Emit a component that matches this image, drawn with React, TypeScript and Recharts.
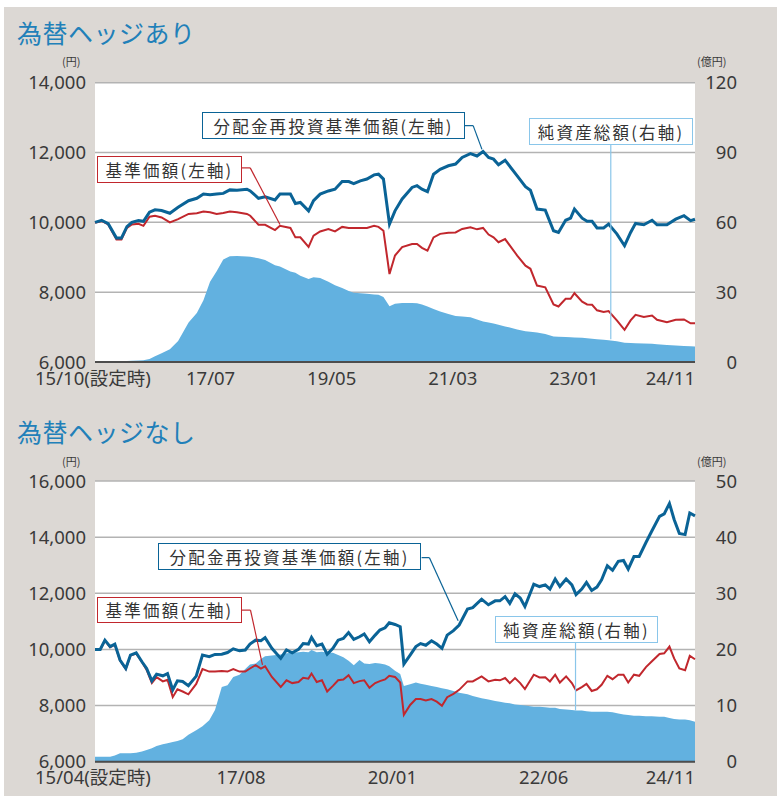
import React from "react";
import { ComposedChart, Line, Area, XAxis, YAxis, CartesianGrid, ReferenceLine } from "recharts";

// 為替ヘッジあり -------------------------------------------------------------
// x = months since 15/10 (inception), left axis = 円, right axis = 億円
const hedgedMonths = [
  0, 1.2, 2.4, 3.9, 4.8, 5.8, 6.7, 7.9, 8.8, 9.9,
  10.9, 12.1, 13.6, 15.1, 17, 18.5, 19.7, 20.9, 22.1, 23.3,
  24.5, 25.8, 27.6, 28.2, 29.7, 30.9, 32.7, 33.6, 35.5, 36.4,
  37.3, 38.8, 39.7, 40.9, 42.4, 43.6, 44.9, 46.1, 47, 48.2,
  49.4, 50.7, 51.5, 52.4, 53.5, 54.5, 55.8, 57.6, 58.5, 59.4,
  60.4, 61.5, 62.7, 64.2, 65.5, 66.7, 68.2, 69.4, 70.5, 71.5,
  72.4, 73.3, 74.5, 76.7, 78.2, 79.1, 80.3, 81.8, 83.3, 84.2,
  85.5, 86.4, 87.1, 88.5, 89.4, 90.3, 91.2, 92.4, 93.3, 94.8,
  96.2, 97.3, 98.2, 99.7, 101.2, 102.1, 103.9, 105.5, 107, 108.2, 109,
];
const hedgedReinvested = [
  10000, 10060, 9960, 9550, 9550, 9875, 10000, 10050, 10030, 10290,
  10360, 10340, 10260, 10430, 10620, 10690, 10810, 10790, 10810, 10830,
  10930, 10920, 10950, 10900, 10690, 10730, 10640, 10810, 10810, 10540,
  10570, 10330, 10620, 10810, 10900, 10950, 11170, 11170, 11110, 11190,
  11240, 11360, 11380, 11240, 9950, 10330, 10670, 11000, 11050, 10950,
  10880, 11380, 11520, 11620, 11670, 11860, 11970, 11900, 12030, 11860,
  11810, 11650, 11780, 11330, 11020, 10920, 10380, 10350, 9760, 9710,
  10060, 10120, 10380, 10120, 10030, 10030, 9840, 9840, 9950, 9670,
  9330, 9710, 9970, 9930, 10060, 9930, 9930, 10090, 10190, 10050, 10090,
];
const hedgedNav = [
  9990, 10040, 9940, 9510, 9510, 9840, 9940, 9960, 9900, 10160,
  10190, 10140, 10000, 10090, 10240, 10260, 10310, 10290, 10240, 10270,
  10310, 10290, 10240, 10190, 9930, 9930, 9780, 9900, 9840, 9570,
  9570, 9300, 9620, 9740, 9810, 9740, 9870, 9840, 9840, 9840,
  9840, 9900, 9870, 9760, 8520, 9050, 9290, 9380, 9380, 9270,
  9190, 9570, 9670, 9700, 9710, 9810, 9860, 9800, 9840, 9650,
  9570, 9430, 9520, 9050, 8760, 8670, 8190, 8140, 7650, 7590,
  7810, 7810, 7970, 7730, 7650, 7640, 7480, 7430, 7460, 7190,
  6920, 7190, 7350, 7290, 7330, 7210, 7140, 7210, 7220, 7110, 7110,
];
const hedgedAssets = [
  0.3, 0.3, 0.3, 0.3, 0.4, 0.4, 0.5, 0.6, 0.8, 1.3,
  2.5, 3.8, 5.5, 9, 17, 21, 26.5, 34.5, 39, 44,
  45.4, 45.5, 45.3, 45.2, 44.6, 43.8, 41.6, 41, 38.9, 38.3,
  37.1, 35.7, 36.4, 36.1, 34.5, 33, 31.8, 30.5, 29.8, 29.5,
  29.3, 29, 28.9, 27.9, 23.9, 25, 25.3, 25.4, 25.2, 24.7,
  23.8, 22.8, 21.7, 20.6, 19.8, 19.5, 19.2, 18.3, 17.4, 17,
  16.5, 16, 15.3, 14, 13.2, 13, 12.7, 12, 11, 10.9,
  10.7, 10.6, 10.5, 10.4, 10.2, 10, 9.8, 9.6, 9.3, 8.9,
  8.3, 8.2, 8.1, 8, 7.8, 7.6, 7.3, 7.1, 6.9, 6.8, 6.7,
];
const hedgedTicks = [0, 21, 43, 65, 87, 109];
const hedgedTickLabels = ["15/10(設定時)", "17/07", "19/05", "21/03", "23/01", "24/11"];

// 為替ヘッジなし -------------------------------------------------------------
// x = months since 15/04 (inception)
const openMonths = [
  0, 1, 1.9, 2.9, 3.8, 4.8, 5.9, 6.8, 7.9, 9,
  9.9, 10.9, 11.8, 13, 13.9, 14.9, 15.8, 16.8, 17.9, 19.4,
  20.6, 21.9, 23, 24.3, 25.4, 26.5, 27.7, 28.8, 29.7, 30.8,
  31.8, 32.6, 33.9, 35.6, 36.7, 37.8, 39, 39.9, 40.9, 41.5,
  42.5, 43.5, 44.5, 45.6, 46.6, 47.6, 48.6, 49.6, 50.7, 51.6,
  52.6, 53.7, 54.6, 55.6, 56.4, 57.5, 58.5, 59.2, 60.4, 61.5,
  62.4, 63.4, 64.5, 65.5, 66.5, 67.5, 68.7, 69.8, 71.4, 72.4,
  74.1, 75.4, 76.7, 77.6, 78.6, 79.5, 80.5, 81.5, 82.4, 84.1,
  85.2, 86.3, 87.2, 88.2, 89.1, 90.3, 91.4, 92.2, 93.3, 94.2,
  95.2, 96.2, 97.1, 98.2, 99.2, 100.3, 101.3, 102.2, 103.3, 104.3,
  105.6, 106.7, 108.2, 109.1, 110.1, 111, 112, 113.1, 114, 115,
];
const openReinvested = [
  10000, 10000, 10330, 10100, 10190, 9620, 9320, 9800, 9880, 9560,
  9320, 8880, 9120, 9060, 9140, 8560, 8880, 8860, 8710, 9050,
  9800, 9740, 9820, 9830, 9890, 10020, 9950, 9980, 10190, 10330,
  10310, 10420, 10040, 9680, 9980, 9880, 10000, 10210, 10190, 10430,
  10130, 10190, 9830, 10040, 10330, 10390, 10600, 10360, 10450, 10550,
  10270, 10510, 10690, 10770, 10950, 10890, 10810, 9480, 9800, 10100,
  10210, 10150, 10310, 10190, 10040, 10510, 10670, 10870, 11440, 11490,
  11790, 11590, 11730, 11730, 11880, 11640, 11980, 11830, 11530, 12320,
  12240, 12300, 12150, 12510, 12240, 12510, 12300, 11950, 12150, 12390,
  12100, 12220, 12480, 12980, 12820, 13140, 13170, 12860, 13310, 13310,
  13810, 14210, 14740, 14830, 15200, 14630, 14130, 14090, 14860, 14760,
];
const openNav = [
  9990, 9990, 10310, 10080, 10170, 9600, 9300, 9780, 9850, 9550,
  9270, 8800, 9010, 8860, 8920, 8300, 8580, 8500, 8400, 8770,
  9300, 9210, 9210, 9230, 9210, 9300, 9210, 9210, 9320, 9440,
  9320, 9400, 9020, 8660, 8900, 8800, 8840, 8990, 8960, 9140,
  8840, 8900, 8500, 8700, 8900, 8930, 9080, 8800, 8870, 8900,
  8630, 8800, 8870, 8930, 9060, 9020, 8820, 7670, 8020, 8230,
  8230, 8180, 8230, 8140, 7990, 8300, 8420, 8560, 8860, 8860,
  9040, 8860, 8920, 8900, 8980, 8800, 8980, 8800, 8590, 9100,
  9000, 9010, 8860, 9100, 8820, 9040, 8800, 8540, 8660, 8770,
  8520, 8580, 8740, 9060, 8940, 9100, 9100, 8820, 9100, 9060,
  9370, 9570, 9840, 9860, 10100, 9680, 9320, 9260, 9770, 9650,
];
const openAssets = [
  0.9, 0.9, 0.9, 0.9, 1.1, 1.5, 1.5, 1.5, 1.6, 1.8,
  2.1, 2.4, 2.8, 3.1, 3.3, 3.5, 3.7, 4, 4.8, 5.6,
  6.3, 7.4, 9.2, 13.3, 13.6, 15.1, 15.5, 16.5, 17.3, 17.5,
  18.3, 18.8, 18.9, 19.1, 19.3, 19.4, 19.5, 19.6, 19.5, 19.9,
  19.5, 19.6, 19.4, 19.4, 19, 18.6, 18, 17.2, 18.1, 17.5,
  17.4, 17.6, 17.5, 17.3, 17, 16.2, 15.6, 13.5, 13.8, 14.1,
  13.9, 13.7, 13.5, 13.3, 13.1, 12.9, 12.6, 12.3, 12, 11.7,
  11.3, 11.1, 10.8, 10.7, 10.5, 10.4, 10.2, 10.1, 10, 9.8,
  9.8, 9.7, 9.6, 9.6, 9.4, 9.3, 9.2, 9.1, 9.1, 9,
  8.9, 8.9, 8.9, 8.9, 8.8, 8.6, 8.4, 8.3, 8.2, 8.2,
  8.1, 8.1, 8, 8, 7.8, 7.6, 7.5, 7.5, 7.4, 7.1,
];
const openTicks = [0, 28, 57, 86, 115];
const openTickLabels = ["15/04(設定時)", "17/08", "20/01", "22/06", "24/11"];

// colors ---------------------------------------------------------------------
const BG = "#dcd8d4";
const TITLE = "#2180b9";
const C_BLUE = "#0a6396";
const C_RED = "#c1272d";
const C_AREA = "#62b1e0";
const C_LEAD = "#8ac6ea";
const GRID = "#b3b3b3";
const TICK = "#3a3a3a";
const NUM_FONT = "'Noto Sans', 'Noto Sans CJK JP', sans-serif";
const JP_FONT = "'Noto Sans CJK JP', 'Noto Sans', sans-serif";

type Pt = { x: number; y: number };
type Leader = { color: string; pts: Pt[]; axis: "left" | "right" };

interface FundChartProps {
  height: number;
  marginTop: number;
  marginBottom: number;
  months: number[];
  reinvested: number[];
  nav: number[];
  assets: number[];
  leftMax: number;
  rightMax: number;
  rightStep: number;
  ticks: number[];
  tickLabels: string[];
  leaders: Leader[];
}

const FundChart: React.FC<FundChartProps> = (p) => {
  const rows = p.months.map((m, i) => ({ m, blue: p.reinvested[i], red: p.nav[i], assets: p.assets[i] }));
  const leftTicks: number[] = [];
  for (let v = 6000; v <= p.leftMax; v += 2000) leftTicks.push(v);
  const rightTicks: number[] = [];
  for (let v = 0; v <= p.rightMax; v += p.rightStep) rightTicks.push(v);
  const last = p.ticks.length - 1;

  return (
    <ComposedChart
      width={777}
      height={p.height}
      data={rows}
      margin={{ top: p.marginTop, right: 0, bottom: p.marginBottom, left: 0 }}
    >
      <CartesianGrid vertical={false} yAxisId="left" stroke={GRID} strokeWidth={1.5} fill="#ffffff" />
      <XAxis
        dataKey="m"
        type="number"
        domain={[0, p.ticks[last]]}
        ticks={p.ticks}
        height={30}
        tickSize={0}
        tickMargin={0}
        axisLine={{ stroke: "#4d4d4d", strokeWidth: 2 }}
        tickLine={false}
        tick={(t: any) => {
          const i = t.index;
          const anchor = i === 0 ? "start" : i === last ? "end" : "middle";
          const x = i === 0 ? t.x - 60 : t.x;
          return (
            <text x={x} y={t.y + 16} dy="0.36em" textAnchor={anchor} fill={TICK} fontSize={18.5} fontFamily={NUM_FONT}>
              {p.tickLabels[i]}
            </text>
          );
        }}
      />
      <YAxis
        yAxisId="left"
        orientation="left"
        width={95}
        domain={[6000, p.leftMax]}
        ticks={leftTicks}
        axisLine={false}
        tickLine={false}
        tickSize={0}
        tickMargin={9}
        tick={(t: any) => (
          <text x={t.x} y={t.y} dy="0.36em" textAnchor="end" fill={TICK} fontSize={18.5} fontFamily={NUM_FONT}>
            {Number(t.payload.value).toLocaleString("en-US")}
          </text>
        )}
      />
      <YAxis
        yAxisId="right"
        orientation="right"
        width={82}
        domain={[0, p.rightMax]}
        ticks={rightTicks}
        axisLine={false}
        tickLine={false}
        tickSize={0}
        tickMargin={0}
        tick={(t: any) => (
          <text x={t.x + 42} y={t.y} dy="0.36em" textAnchor="end" fill={TICK} fontSize={18.5} fontFamily={NUM_FONT}>
            {t.payload.value}
          </text>
        )}
      />
      <Area
        yAxisId="right"
        dataKey="assets"
        type="linear"
        stroke="none"
        fill={C_AREA}
        fillOpacity={1}
        isAnimationActive={false}
      />
      <Line yAxisId="left" dataKey="red" type="linear" stroke={C_RED} strokeWidth={2} dot={false} isAnimationActive={false} />
      <Line yAxisId="left" dataKey="blue" type="linear" stroke={C_BLUE} strokeWidth={3} dot={false} isAnimationActive={false} />
      {p.leaders.map((ld, k) =>
        ld.pts.slice(1).map((pt, j) => (
          <ReferenceLine
            key={`${k}-${j}`}
            yAxisId={ld.axis}
            segment={[ld.pts[j], pt]}
            stroke={ld.color}
            strokeWidth={1.2}
          />
        ))
      )}
    </ComposedChart>
  );
};

const Tag: React.FC<{ text: string; color: string; left: number; top: number; width: number; height: number }> = ({
  text, color, left, top, width, height,
}) => (
  <div
    style={{
      position: "absolute", left, top, width, height, boxSizing: "border-box",
      border: `1.5px solid ${color}`, background: "#ffffff",
      display: "flex", alignItems: "center", justifyContent: "center",
      fontFamily: JP_FONT, fontSize: 16.5, letterSpacing: 2.2, color: "#333333", whiteSpace: "nowrap",
    }}
  >
    {text}
  </div>
);

const abs = (left: number, top: number): React.CSSProperties => ({ position: "absolute", left, top });
const unit: React.CSSProperties = { fontFamily: JP_FONT, fontSize: 11, lineHeight: "11px", color: TICK };
const title: React.CSSProperties = { fontFamily: JP_FONT, fontSize: 25, lineHeight: "32px", color: TITLE, letterSpacing: 0.5 };

export default function App() {
  return (
    <div style={{ position: "relative", width: 777, height: 796, background: "#ffffff", overflow: "hidden" }}>
      <style>{"body{margin:0}"}</style>
      <div style={{ position: "absolute", left: 4, top: 7, right: 0, bottom: 0, background: BG }} />

      {/* chart 1 */}
      <div style={{ position: "absolute", left: 0, top: 0, width: 777, height: 400 }}>
        <FundChart
          height={400}
          marginTop={82.7}
          marginBottom={8}
          months={hedgedMonths}
          reinvested={hedgedReinvested}
          nav={hedgedNav}
          assets={hedgedAssets}
          leftMax={14000}
          rightMax={120}
          rightStep={30}
          ticks={hedgedTicks}
          tickLabels={hedgedTickLabels}
          leaders={[
            { color: C_BLUE, axis: "left", pts: [{ x: 67.2, y: 12770 }, { x: 68.7, y: 12770 }, { x: 70.3, y: 12090 }] },
            { color: C_RED, axis: "left", pts: [{ x: 26.7, y: 11560 }, { x: 28.2, y: 11560 }, { x: 33.6, y: 9940 }] },
            { color: C_LEAD, axis: "left", pts: [{ x: 93.7, y: 12230 }, { x: 93.7, y: 6650 }] },
          ]}
        />
      </div>

      {/* chart 2 */}
      <div style={{ position: "absolute", left: 0, top: 400, width: 777, height: 396 }}>
        <FundChart
          height={396}
          marginTop={81}
          marginBottom={4.3}
          months={openMonths}
          reinvested={openReinvested}
          nav={openNav}
          assets={openAssets}
          leftMax={16000}
          rightMax={50}
          rightStep={10}
          ticks={openTicks}
          tickLabels={openTickLabels}
          leaders={[
            { color: C_BLUE, axis: "left", pts: [{ x: 62.6, y: 13270 }, { x: 64.1, y: 13270 }, { x: 69.6, y: 11020 }] },
            { color: C_RED, axis: "left", pts: [{ x: 28.1, y: 11400 }, { x: 29.8, y: 11400 }, { x: 32.1, y: 9450 }] },
            { color: C_LEAD, axis: "left", pts: [{ x: 92.1, y: 10240 }, { x: 92.1, y: 7820 }] },
          ]}
        />
      </div>

      {/* titles and unit labels */}
      <div style={{ ...abs(17, 16), ...title }}>為替ヘッジあり</div>
      <div style={{ ...abs(17, 415), ...title }}>為替ヘッジなし</div>
      <div style={{ ...abs(62, 56), ...unit }}>(円)</div>
      <div style={{ ...abs(697, 56), ...unit }}>(億円)</div>
      <div style={{ ...abs(62, 456), ...unit }}>(円)</div>
      <div style={{ ...abs(697, 456), ...unit }}>(億円)</div>

      {/* callouts */}
      <Tag text="分配金再投資基準価額(左軸)" color={C_BLUE} left={202} top={112} width={263} height={27} />
      <Tag text="基準価額(左軸)" color={C_RED} left={97} top={156} width={145} height={27} />
      <Tag text="純資産総額(右軸)" color={C_LEAD} left={529} top={118} width={164} height={27} />
      <Tag text="分配金再投資基準価額(左軸)" color={C_BLUE} left={158} top={543} width={263} height={27} />
      <Tag text="基準価額(左軸)" color={C_RED} left={97} top={597} width={145} height={26} />
      <Tag text="純資産総額(右軸)" color={C_LEAD} left={495} top={616} width={163} height={27} />
    </div>
  );
}
